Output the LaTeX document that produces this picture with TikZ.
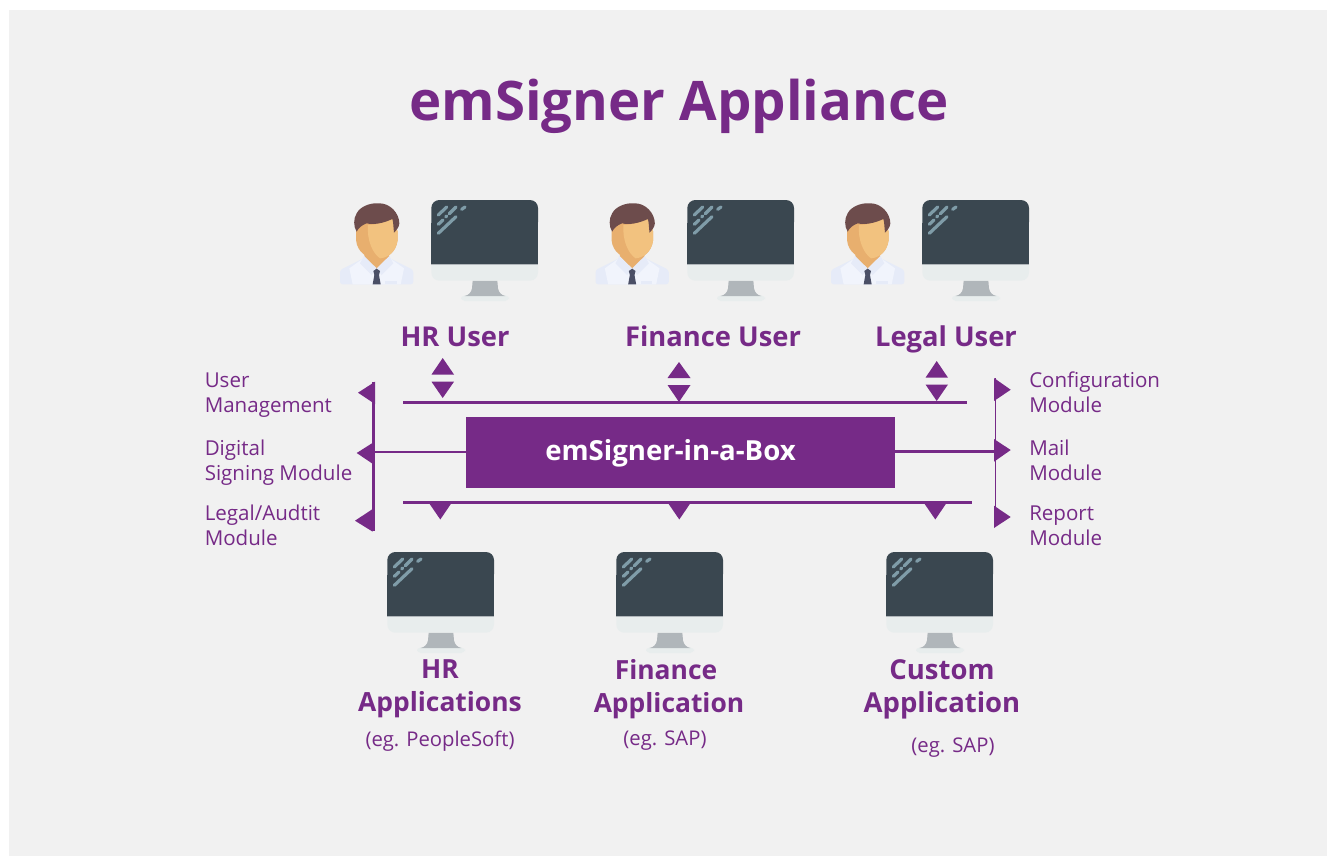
\documentclass[tikz,border=0pt]{standalone}
\usepackage{fontspec}
\setmainfont{Open Sans}
\definecolor{pur}{HTML}{762A87}
\definecolor{bgg}{HTML}{F1F1F1}
\definecolor{scr}{HTML}{3A4750}
\definecolor{bez}{HTML}{E8EDED}
\definecolor{stnd}{HTML}{B0B6BA}
\definecolor{glare}{HTML}{7F9CA8}
\definecolor{hair}{HTML}{6D4C4C}
\definecolor{skina}{HTML}{E8AF6E}
\definecolor{skinb}{HTML}{F2C27F}
\definecolor{shirta}{HTML}{F1F4FC}
\definecolor{shirtb}{HTML}{E6EBF8}
\definecolor{tie}{HTML}{4A4F66}
\tikzset{
 x=0.75pt,y=-0.75pt,
 station/.pic={
  \begin{scope}[x=.25pt,y=-.25pt]
   \fill[bez,rounded corners=3pt] (393,316) rectangle (537,333);
   \fill[stnd] (428,272) -- (502,272) -- (504,295) .. controls (506,308) and (515,316) .. (526,318) -- (404,318) .. controls (415,316) and (424,308) .. (426,295) -- cycle;
   \fill[bez,rounded corners=6pt] (304,200) rectangle (624,272);
   \fill[scr,rounded corners=6pt] (304,30) rectangle (624,120);
   \fill[scr] (304,100) rectangle (624,222);
   \fill[stnd] (304,222) rectangle (624,225);
   \begin{scope}[glare,line width=2.4pt,line cap=round]
    \draw (325,75) -- (350,51);
    \draw (358,71) -- (378,51);
    \draw (395,58) -- (405,51);
    \draw (325,103) -- (339,90);
    \draw (347,81) -- (350,78);
    \draw (325,130) -- (378,80);
   \end{scope}
  \end{scope}
 },
 person/.pic={
  \begin{scope}[x=.25pt,y=-.25pt]
   \fill[shirtb,rounded corners=2pt] (30,283) -- (30,240) -- (100,205) -- (180,205) -- (250,240) -- (250,283) -- cycle;
   \fill[shirta] (68,283) -- (58,235) -- (100,205) -- (180,205) -- (222,235) -- (212,283) -- cycle;
   \fill[shirtb] (165,274) rectangle (200,283);
   \fill[skina] (103,165) -- (177,165) -- (177,205) -- (140,240) -- (103,205) -- cycle;
   \fill[shirtb] (102,198) -- (90,220) -- (125,255) -- (140,235) -- cycle;
   \fill[shirtb] (178,198) -- (190,220) -- (155,255) -- (140,235) -- cycle;
   \fill[tie] (130,243) -- (140,236) -- (150,243) -- (147,255) -- (152,283) -- (128,283) -- (133,255) -- cycle;
   \fill[skina] (78,125) -- (78,150) .. controls (82,190) and (115,205) .. (140,207) .. controls (170,205) and (198,190) .. (203,150) -- (203,125) -- (190,85) -- (90,85) -- cycle;
   \fill[skinb] (114,105) .. controls (140,105) and (170,95) .. (190,85) -- (203,125) -- (203,150) .. controls (198,185) and (175,203) .. (150,205) .. controls (128,190) and (110,150) .. (114,105) -- cycle;
   \fill[hair] (80,125) .. controls (70,110) and (70,85) .. (80,70) .. controls (90,50) and (120,38) .. (145,40) .. controls (180,38) and (208,70) .. (208,100) .. controls (208,110) and (200,120) .. (192,128) .. controls (190,110) and (190,95) .. (187,87) .. controls (160,100) and (130,105) .. (110,100) .. controls (95,105) and (85,115) .. (80,125) -- cycle;
  \end{scope}
 },
 upt/.style={fill=pur},
 modlabel/.style={text=pur,font=\fontsize{15.4}{18.75}\selectfont,align=left,anchor=west,inner sep=0pt},
 userlabel/.style={text=pur,font=\fontsize{20.5}{24.75}\selectfont\bfseries,anchor=base,inner sep=0pt},
 headlabel/.style={text=pur,font=\fontsize{19.8}{24.75}\selectfont\bfseries,align=center,inner sep=0pt},
 eglabel/.style={text=pur,font=\fontsize{15.2}{18.75}\selectfont,inner sep=0pt},
 hub/.style={fill=pur,text=white,font=\fontsize{20.7}{24}\selectfont\bfseries,minimum width=321.75pt,minimum height=53.25pt,inner sep=0pt},
 busline/.style={draw=pur,line width=1.6pt},
 thinline/.style={draw=pur,line width=0.9pt},
}
\begin{document}
\begin{tikzpicture}
\useasboundingbox (0,0) rectangle (1332,857);
\fill[white] (0,0) rectangle (1332,857);
\fill[bgg] (9,10) rectangle (1327,856);
\node[text=pur,font=\fontsize{40.9}{50}\selectfont\bfseries,inner sep=0pt] (title) at (679,106) {emSigner Appliance};
\pic at (330,190) {person};
\pic at (330,190) {station};
\pic at (585.5,190) {person};
\pic at (586,190) {station};
\pic at (821,190) {person};
\pic at (821,190) {station};
\pic at (286,542) {station};
\pic at (515,542) {station};
\pic at (785,542) {station};
\node[userlabel] (uhr) at (455,346) {HR User};
\node[userlabel] (ufin) at (713,346) {Finance User};
\node[userlabel] (uleg) at (946,346) {Legal User};
\node[hub] (box) at (680.5,452.5) {\makebox[0pt]{\hspace{-15pt}\raisebox{-6.2pt}[0pt][0pt]{emSigner-in-a-Box}}};
% horizontal buses
\coordinate (tl) at (403,402.5);\coordinate (tr) at (967,402.5);
\coordinate (bl) at (403,502.5);\coordinate (br) at (972,502.5);
\draw[busline] (tl) -- (tr);
\draw[busline] (bl) -- (br);
% vertical buses
\coordinate (lt) at (373.5,382);\coordinate (lb) at (373.5,531);
\coordinate (rt) at (995.5,378);\coordinate (rb) at (995.5,526);
\draw[busline] (lt) -- (lb);
\draw[thinline] (rt) -- (rb);
\coordinate (lm) at (373.5,452);\coordinate (rm) at (995.5,451.5);
\draw[busline] (box.west |- lm) -- (lm);
\draw[busline] (box.east |- rm) -- (rm);
% up/down triangles
\fill[upt] (431.5,374.5) -- (442.7,358) -- (454,374.5) -- cycle;
\fill[upt] (431.5,381.7) -- (442.7,398) -- (454,381.7) -- cycle;
\fill[upt] (667.5,378) -- (679,362) -- (690.5,378) -- cycle;
\fill[upt] (667.5,385) -- (679,402) -- (690.5,385) -- cycle;
\fill[upt] (925.5,377.7) -- (936.7,361) -- (948,377.7) -- cycle;
\fill[upt] (925.5,384.5) -- (936.7,401) -- (948,384.5) -- cycle;
% down triangles bottom
\fill[upt] (429,503) -- (440.3,519.5) -- (451.5,503) -- cycle;
\fill[upt] (668,503) -- (679.3,519.5) -- (690.5,503) -- cycle;
\fill[upt] (924,503) -- (935.3,519.5) -- (946.5,503) -- cycle;
% left triangles
\fill[upt] (375,381.7) -- (358,392.7) -- (375,404) -- cycle;
\fill[upt] (374,442) -- (356.7,453) -- (374,464.7) -- cycle;
\fill[upt] (372.7,509) -- (355,520.7) -- (372.7,531.7) -- cycle;
% right triangles
\fill[upt] (994,378) -- (1010.7,389.7) -- (994,401) -- cycle;
\fill[upt] (994,439) -- (1010.7,450) -- (994,461.7) -- cycle;
\fill[upt] (994,505.7) -- (1010.7,517) -- (994,528) -- cycle;
% module labels
\node[modlabel] (m1) at (204.5,395.5) {User\\Management};
\node[modlabel] (m2) at (204.5,462.5) {Digital\\Signing Module};
\node[modlabel] (m3) at (204.5,525.5) {Legal/Audtit\\Module};
\node[modlabel] (m4) at (1029,392.5) {Configuration\\Module};
\node[modlabel] (m5) at (1029,460.5) {Mail\\Module};
\node[modlabel] (m6) at (1029,525.5) {Report\\Module};
% apps
\node[headlabel] (a1) at (440,689) {HR\\Applications};
\node[headlabel] (a2) at (669,689) {Finance\kern4.5pt\\Application};
\node[headlabel,font=\fontsize{20.6}{24.75}\selectfont\bfseries] (a3) at (942,689) {Custom\\Application};
\node[eglabel] (e1) at (440,741) {(eg. PeopleSoft)};
\node[eglabel] (e2) at (665,741) {(eg. SAP)};
\node[eglabel] (e3) at (953,748) {(eg. SAP)};
\end{tikzpicture}
\end{document}
